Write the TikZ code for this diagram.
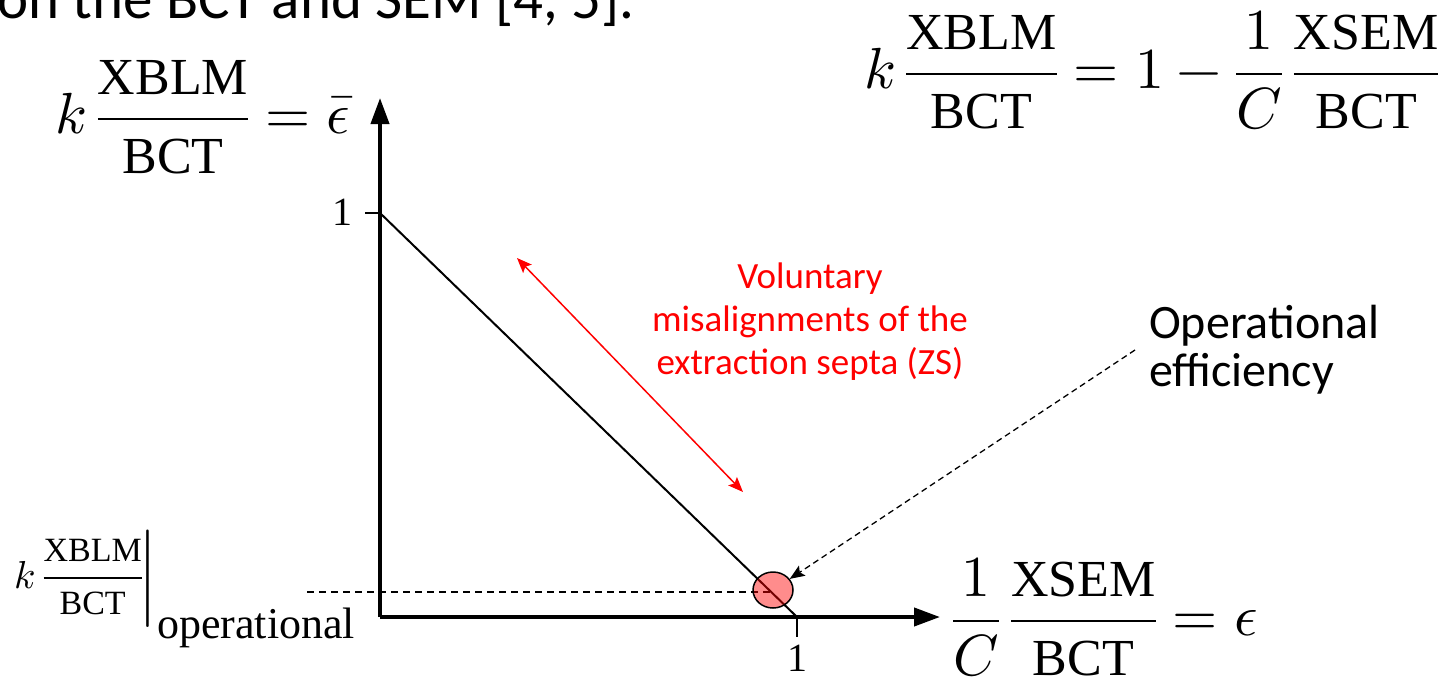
\documentclass[tikz,border=0pt]{standalone}
\usepackage{amsmath}
\usepackage{fontspec}
\usepackage{unicode-math}
\setmainfont{Carlito}
\newfontfamily\eqfont{Liberation Serif}
\newcommand{\eqtxt}[1]{\text{\eqfont\fontsize{52}{62}\selectfont #1}}
\newcommand{\eqtxts}[1]{\text{\eqfont\fontsize{34}{40}\selectfont #1}}
\usetikzlibrary{arrows.meta,shapes.geometric}
\tikzset{
  eqbig/.style={font=\fontsize{58}{66}\selectfont, inner sep=0pt},
  eqsmall/.style={font=\fontsize{39}{44}\selectfont, inner sep=0pt},
  ticklab/.style={font=\eqfont\fontsize{40}{48}\selectfont, inner sep=0pt},
  axisline/.style={line width=4pt, -{Triangle[length=26pt,width=18pt]}},
  tickline/.style={line width=2pt},
  redarrow/.style={draw=red, line width=1.5pt, {Stealth[length=15pt,width=12pt,inset=3pt]}-{Stealth[length=15pt,width=12pt,inset=3pt]}},
  pointer/.style={line width=1.3pt, dash pattern=on 6pt off 4pt, -{Stealth[length=15pt,width=12pt,inset=3pt]}},
  guide/.style={line width=1.5pt, dash pattern=on 7pt off 5pt},
  bodytext/.style={font=\fontsize{48}{48}\selectfont, inner sep=0pt},
  toptextstyle/.style={font=\fontsize{59}{60}\selectfont, inner sep=0pt},
  redtext/.style={font=\fontsize{37}{43}\selectfont, text=red, inner sep=0pt, align=center},
  oppoint/.style={ellipse, draw=black, line width=1.5pt, fill=red, fill opacity=0.45, draw opacity=1, minimum width=40pt, minimum height=36pt, inner sep=0pt},
}
\begin{document}
\begin{tikzpicture}[x=1pt,y=-1pt]
\clip (0,0) rectangle (1448,677);
\fill[white] (0,0) rectangle (1448,677);

% top clipped text
\node[toptextstyle, anchor=base west] (toptext) at (-3,19) {on the BCT and SEM [4, 5].};

% coordinates
\coordinate (O) at (380,617);
\coordinate (Ytop) at (380,98);
\coordinate (Xend) at (940,617);
\coordinate (Y1) at (380,213);
\coordinate (Y1t) at (365,213);
\coordinate (X1) at (797,617);
\coordinate (X1t) at (797,637);
\coordinate (gstart) at (307,592);
\coordinate (gend) at (773,592);

% axes
\draw[axisline] (O) -- (Ytop);
\draw[axisline] (O) -- (Xend);
\draw[tickline] (Y1t) -- (Y1);
\draw[tickline] (X1) -- (X1t);
\node[ticklab, anchor=east] (one y) at (353,212) {1};
\node[ticklab, anchor=north] (one x) at (797,645) {1};

% guide and diagonal
\draw[guide] (gstart) -- (gend);
\draw[line width=2pt] (Y1) -- (X1);

% operating point
\node[oppoint] (op) at (773,590) {};

% labels
\node[eqbig] (ylab) at (203,117) {$k\mkern3mu\dfrac{\eqtxt{XBLM}}{\eqtxt{BCT}} = \bar{\epsilon}$};
\node[eqbig] (eqtop) at (1152,70) {$k\mkern3mu\dfrac{\eqtxt{XBLM}}{\eqtxt{BCT}} = 1 - \dfrac{1}{C}\mkern3mu\dfrac{\eqtxt{XSEM}}{\eqtxt{BCT}}$};
\node[eqbig] (xlab) at (1105,617) {$\dfrac{1}{C}\mkern3mu\dfrac{\eqtxt{XSEM}}{\eqtxt{BCT}} = \epsilon$};
\node[eqsmall, anchor=east] (opk) at (154,579) {$\left. k\mkern3mu\dfrac{\eqtxts{XBLM}}{\eqtxts{BCT}}\vrule height 59pt depth 41pt width 0pt\right|$};
\node[font=\eqfont\fontsize{44}{48}\selectfont, inner sep=0pt, anchor=base west] (opsub) at (157,638) {operational};

% red arrow + text
\coordinate (ra) at (517,258);
\coordinate (rb) at (743,492);
\draw[redarrow] (ra) -- (rb);
\node[redtext] (zs) at (810,322) {Voluntary\\misalignments of the\\extraction septa (ZS)};

% operational efficiency
\node[bodytext, anchor=base west] (eff1) at (1149,338) {Operational};
\node[bodytext, anchor=base west] (eff2) at (1149,386) {efficiency};
\coordinate (pstart) at (1135,350);
\draw[pointer] (pstart) -- (op);
\end{tikzpicture}
\end{document}
